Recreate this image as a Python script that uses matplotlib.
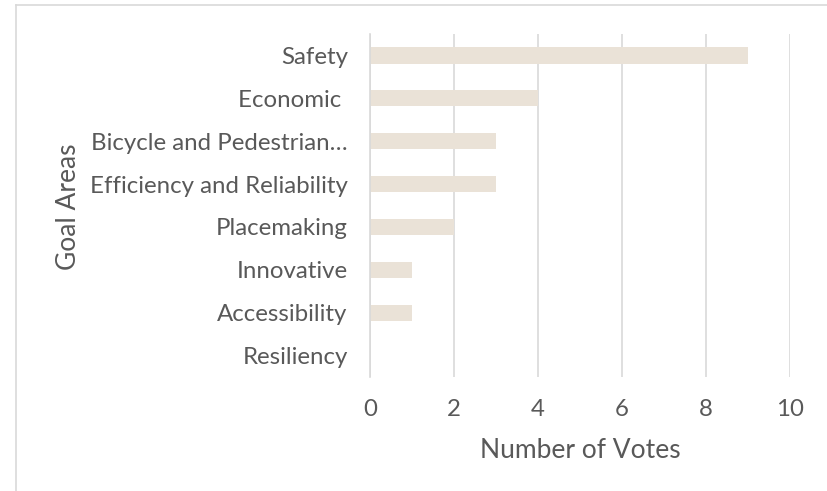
import matplotlib.pyplot as plt
from matplotlib.lines import Line2D

categories = ['Safety', 'Economic ', 'Bicycle and Pedestrian…', 'Efficiency and Reliability',
              'Placemaking', 'Innovative', 'Accessibility', 'Resiliency']
votes = [9, 4, 3, 3, 2, 1, 1, 0]
xticks = [0, 2, 4, 6, 8, 10]

plt.rcParams['font.family'] = ['Lato', 'DejaVu Sans']
text_col = '#595959'
grid_col = '#D9D9D9'

fig = plt.figure(figsize=(8.28, 4.91), dpi=100)
ax = fig.add_axes([370/828, 1 - 377/491, 420/828, (377 - 34)/491])

y = list(range(len(categories)))[::-1]
ax.barh(y, votes, height=0.38, color='#EAE2D7', zorder=2)

ax.set_xlim(0, 10)
ax.set_ylim(-0.5, len(categories) - 0.5)
ax.set_xticks(xticks)
ax.set_xticklabels([str(t) for t in xticks])
ax.set_yticks(y)
ax.set_yticklabels(categories)
ax.tick_params(axis='both', length=0, labelsize=17.3, colors=text_col)
ax.tick_params(axis='x', pad=16)
ax.tick_params(axis='y', pad=16)
ax.xaxis.grid(True, color=grid_col, linewidth=1.2, zorder=0)
for s in ['top', 'right', 'bottom']:
    ax.spines[s].set_visible(False)
ax.spines['left'].set_color(grid_col)
ax.spines['left'].set_linewidth(1.2)

ax.set_xlabel('Number of Votes', fontsize=19, color=text_col, labelpad=13)
fig.text(68/828, 1 - 207/491, 'Goal Areas', rotation=90, fontsize=19, color=text_col,
         ha='center', va='center')

# chart area border
fig.add_artist(Line2D([16.5/828, 16.5/828], [0, 1 - 5/491], color=grid_col, linewidth=1.2))
fig.add_artist(Line2D([16.5/828, 1], [1 - 5/491, 1 - 5/491], color=grid_col, linewidth=1.2))

fig.savefig('out.png', dpi=100)
